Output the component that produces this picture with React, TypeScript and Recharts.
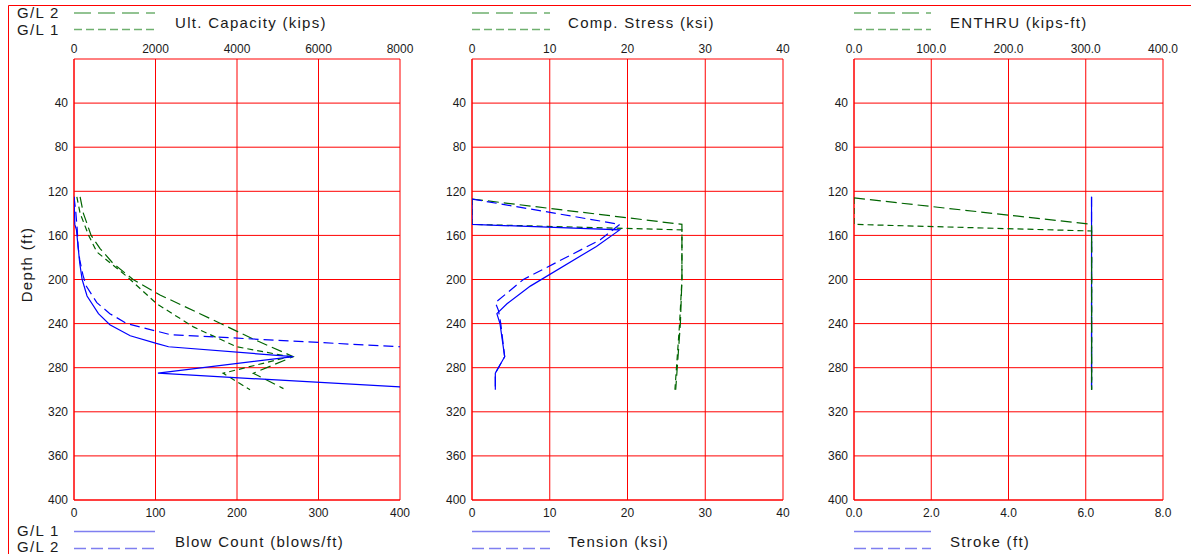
import { ReferenceLine, Scatter, ScatterChart, XAxis, YAxis } from 'recharts';

type Row = [number, number]; // [depth ft, value]

const depthTicks = [40, 80, 120, 160, 200, 240, 280, 320, 360, 400];
const capacityTicks = [0, 2000, 4000, 6000, 8000];
const blowTicks = [0, 100, 200, 300, 400];
const compTicks = [0, 10, 20, 30, 40];
const tensionTicks = [0, 10, 20, 30, 40];
const enthruTicks = [0, 100, 200, 300, 400];
const strokeTicks = [0, 2, 4, 6, 8];

const topTitles = ['Ult. Capacity (kips)', 'Comp. Stress (ksi)', 'ENTHRU (kips-ft)'];
const bottomTitles = ['Blow Count (blows/ft)', 'Tension (ksi)', 'Stroke (ft)'];

const blowCountGL1: Row[] = [
  [125, 0], [150, 1], [155, 3], [170, 5], [185, 7], [200, 10], [215, 16], [231, 30],
  [241, 44], [251, 69], [258, 101], [261, 116], [270, 269], [285, 103], [300, 460],
];
const blowCountGL2: Row[] = [
  [125, 0], [137, 2], [155, 4], [170, 5], [182, 7], [196, 11], [206, 15], [221, 28],
  [231, 44], [240, 65], [250, 118], [253, 195], [261, 400], [265, 500],
];
const capacityGL1: Row[] = [
  [125, 70], [140, 150], [160, 360], [175, 560], [197, 1290], [222, 2030], [243, 2930],
  [261, 3990], [270, 5300], [285, 3660], [300, 4320],
];
const capacityGL2: Row[] = [
  [125, 150], [140, 230], [160, 420], [172, 640], [185, 950], [200, 1450], [214, 2110],
  [231, 3090], [254, 4400], [270, 5380], [285, 4400], [299, 5140],
];

const compGL1: Row[] = [[127, 0], [150, 0], [155, 27], [200, 27], [240, 26.7], [270, 26.4], [300, 26.1]];
const compGL2: Row[] = [[127, 0], [150, 27], [200, 27], [240, 26.8], [270, 26.5], [300, 26.2]];
const tensionGL1: Row[] = [
  [127, 0], [150, 0], [155, 19], [170, 16], [206, 7.5], [222, 4.5], [231, 3.2],
  [240, 3.6], [270, 4.2], [285, 3.0], [300, 3.0],
];
const tensionGL2: Row[] = [
  [127, 0], [150, 19], [164, 16.5], [200, 6.6], [221, 3.0], [228, 3.4], [240, 3.7],
  [270, 4.2], [285, 3.0], [300, 3.0],
];

const enthruGL1: Row[] = [[126, 0], [150, 0], [156, 307.6], [300, 307.6]];
const enthruGL2: Row[] = [[126, 0], [150, 307.6], [300, 307.6]];
const strokeGL1: Row[] = [[125, 6.15], [300, 6.15]];
const strokeGL2: Row[] = [[125, 6.15], [300, 6.15]];

const BLUE = '#0000ff';
const GREEN = '#006400';
const RED = '#ff0000';
const FONT = '"Liberation Sans", Arial, sans-serif';

interface Series {
  rows: Row[];
  axis: 'top' | 'bottom';
  color: string;
  dash?: string;
}

interface PanelProps {
  left: number;
  width: number;
  marginLeft: number;
  topDomain: number[];
  topTicks: number[];
  bottomDomain: number[];
  bottomTicks: number[];
  fmtTop?: (v: number) => string;
  fmtBottom?: (v: number) => string;
  series: Series[];
  depthLabel?: boolean;
}

const tickStyle = { fontSize: 12, fontFamily: FONT, fill: '#1a1a1a' };
const noShape = () => <g />;

function Panel(p: PanelProps) {
  return (
    <div style={{ position: 'absolute', left: p.left, top: 0 }}>
      <ScatterChart width={p.width} height={554} margin={{ top: 29, right: 20, bottom: 30, left: p.marginLeft }}>
        <XAxis
          xAxisId="top"
          orientation="top"
          type="number"
          dataKey="v"
          domain={p.topDomain}
          ticks={p.topTicks}
          interval={0}
          allowDataOverflow
          height={30}
          tickSize={0}
          tickMargin={6}
          tickLine={false}
          axisLine={{ stroke: RED }}
          tick={tickStyle}
          tickFormatter={p.fmtTop}
        />
        <XAxis
          xAxisId="bottom"
          orientation="bottom"
          type="number"
          dataKey="v"
          domain={p.bottomDomain}
          ticks={p.bottomTicks}
          interval={0}
          allowDataOverflow
          height={24}
          tickSize={0}
          tickMargin={8}
          tickLine={false}
          axisLine={{ stroke: RED }}
          tick={tickStyle}
          tickFormatter={p.fmtBottom}
        />
        <YAxis
          yAxisId="depth"
          type="number"
          dataKey="d"
          domain={[0, 400]}
          ticks={depthTicks}
          interval={0}
          reversed
          allowDataOverflow
          width={60}
          tickSize={0}
          tickMargin={6}
          tickLine={false}
          axisLine={{ stroke: RED }}
          tick={tickStyle}
          label={
            p.depthLabel
              ? {
                  value: 'Depth (ft)',
                  angle: -90,
                  position: 'center',
                  dx: -17,
                  dy: -15,
                  style: { fontSize: 15, fontFamily: FONT, fill: '#1a1a1a', letterSpacing: 1.3 },
                }
              : undefined
          }
        />
        {p.topTicks.map((t) => (
          <ReferenceLine key={`x${t}`} x={t} xAxisId="top" yAxisId="depth" stroke={RED} strokeWidth={1} />
        ))}
        {depthTicks.map((t) => (
          <ReferenceLine key={`y${t}`} y={t} xAxisId="top" yAxisId="depth" stroke={RED} strokeWidth={1} />
        ))}
        {p.series.map((s, i) => (
          <Scatter
            key={i}
            data={s.rows.map(([d, v]) => ({ d, v }))}
            xAxisId={s.axis}
            yAxisId="depth"
            fill={s.color}
            shape={noShape}
            line={{ stroke: s.color, strokeWidth: 1.2, strokeDasharray: s.dash }}
            lineType="joint"
            isAnimationActive={false}
          />
        ))}
      </ScatterChart>
    </div>
  );
}

const plotLefts = [74, 472, 854];
const firstGrid = [155, 550, 931];
const titleX = [175, 568, 950];

function Overlay() {
  const text = { fontSize: 15, fontFamily: FONT, fill: '#1a1a1a', letterSpacing: 1.3 };
  return (
    <svg width={1191} height={554} style={{ position: 'absolute', left: 0, top: 0, pointerEvents: 'none' }}>
      <path d="M8.5 554 V5.5 H1191" stroke={RED} strokeWidth={1} fill="none" />
      <text x={17} y={18} style={text}>G/L 2</text>
      <text x={17} y={35} style={text}>G/L 1</text>
      <text x={17} y={536} style={text}>G/L 1</text>
      <text x={17} y={552} style={text}>G/L 2</text>
      {plotLefts.map((x0, i) => (
        <g key={i}>
          <line x1={x0} x2={firstGrid[i]} y1={13} y2={13} stroke="#6fb06f" strokeWidth={1.5} strokeDasharray="17 7" />
          <line x1={x0} x2={firstGrid[i]} y1={29.5} y2={29.5} stroke="#6fb06f" strokeWidth={1.5} strokeDasharray="8 4" />
          <line x1={x0} x2={firstGrid[i]} y1={531.5} y2={531.5} stroke="#7f7ff0" strokeWidth={1.5} />
          <line x1={x0} x2={firstGrid[i]} y1={548.5} y2={548.5} stroke="#7f7ff0" strokeWidth={1.5} strokeDasharray="12 5" />
          <text x={titleX[i]} y={27.5} style={text}>{topTitles[i]}</text>
          <text x={titleX[i]} y={547} style={text}>{bottomTitles[i]}</text>
        </g>
      ))}
    </svg>
  );
}

export default function App() {
  const one = (v: number) => v.toFixed(1);
  return (
    <div style={{ position: 'absolute', left: 0, top: 0, width: 1191, height: 554, background: '#fff', overflow: 'hidden' }}>
      <Panel
        left={0}
        width={420}
        marginLeft={14}
        topDomain={[0, 8000]}
        topTicks={capacityTicks}
        bottomDomain={[0, 400]}
        bottomTicks={blowTicks}
        depthLabel
        series={[
          { rows: capacityGL2, axis: 'top', color: GREEN, dash: '11 5' },
          { rows: capacityGL1, axis: 'top', color: GREEN, dash: '6 4' },
          { rows: blowCountGL1, axis: 'bottom', color: BLUE },
          { rows: blowCountGL2, axis: 'bottom', color: BLUE, dash: '10 5' },
        ]}
      />
      <Panel
        left={400}
        width={403}
        marginLeft={12}
        topDomain={[0, 40]}
        topTicks={compTicks}
        bottomDomain={[0, 40]}
        bottomTicks={tensionTicks}
        series={[
          { rows: compGL2, axis: 'top', color: GREEN, dash: '11 5' },
          { rows: compGL1, axis: 'top', color: GREEN, dash: '6 4' },
          { rows: tensionGL1, axis: 'bottom', color: BLUE },
          { rows: tensionGL2, axis: 'bottom', color: BLUE, dash: '10 5' },
        ]}
      />
      <Panel
        left={783}
        width={400}
        marginLeft={11}
        topDomain={[0, 400]}
        topTicks={enthruTicks}
        bottomDomain={[0, 8]}
        bottomTicks={strokeTicks}
        fmtTop={one}
        fmtBottom={one}
        series={[
          { rows: strokeGL1, axis: 'bottom', color: BLUE },
          { rows: strokeGL2, axis: 'bottom', color: BLUE, dash: '10 5' },
          { rows: enthruGL2, axis: 'top', color: GREEN, dash: '11 5' },
          { rows: enthruGL1, axis: 'top', color: GREEN, dash: '6 4' },
        ]}
      />
      <Overlay />
    </div>
  );
}
